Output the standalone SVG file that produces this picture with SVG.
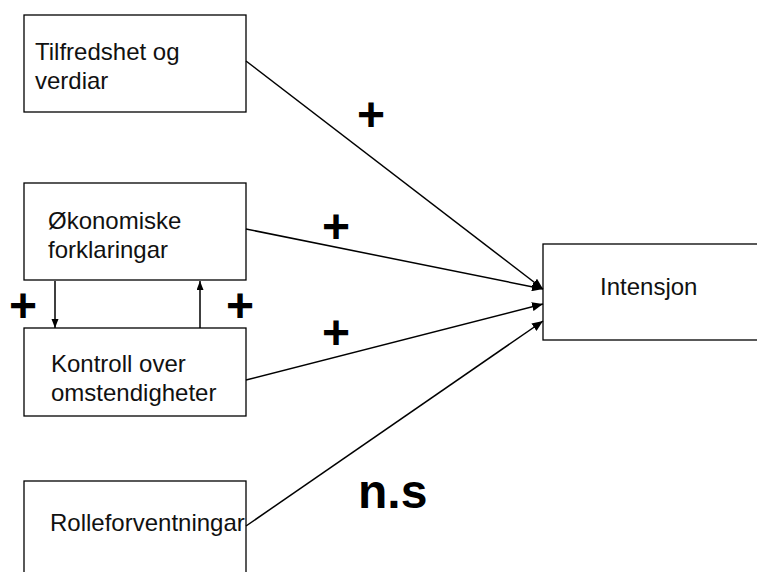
<svg xmlns="http://www.w3.org/2000/svg" width="757" height="572" viewBox="0 0 757 572">
<style>
.box{fill:#fff;stroke:#000;stroke-width:1.3}
.lbl{font-family:"Liberation Sans",Arial,sans-serif;font-size:24px;fill:#111}
.sgn{font-family:"Liberation Sans",Arial,sans-serif;font-size:48px;font-weight:bold;fill:#000}
.con{stroke:#000;stroke-width:1.5;fill:none}
</style>
<defs>
<marker id="ah" markerUnits="userSpaceOnUse" markerWidth="12" markerHeight="9" refX="11" refY="4.5" orient="auto">
<path d="M0,0 L11,4.5 L0,9 z" fill="#000"/>
</marker>
<marker id="as" markerUnits="userSpaceOnUse" markerWidth="9" markerHeight="8" refX="9" refY="3.5" orient="auto">
<path d="M0,0 L9,3.5 L0,7 z" fill="#000"/>
</marker>
</defs>
<rect width="757" height="572" fill="#fff"/>
<g id="n1">
<rect class="box" x="24" y="15" width="222" height="97"/>
<text class="lbl" x="35" y="60">Tilfredshet og</text>
<text class="lbl" x="35" y="89">verdiar</text>
</g>
<g id="n2">
<rect class="box" x="24" y="183" width="222" height="97"/>
<text class="lbl" x="48" y="229">Økonomiske</text>
<text class="lbl" x="48" y="258">forklaringar</text>
</g>
<g id="n3">
<rect class="box" x="24" y="328" width="222" height="88"/>
<text class="lbl" x="51" y="372">Kontroll over</text>
<text class="lbl" x="51" y="401">omstendigheter</text>
</g>
<g id="n4">
<rect class="box" x="24" y="481" width="222" height="100"/>
<text class="lbl" x="50" y="531">Rolleforventningar</text>
</g>
<g id="n5">
<rect class="box" x="543" y="244" width="225" height="96"/>
<text class="lbl" x="600" y="295">Intensjon</text>
</g>
<g id="connectors">
<line class="con" x1="246" y1="61" x2="543" y2="289" marker-end="url(#ah)"/>
<line class="con" x1="246" y1="229" x2="543" y2="289" marker-end="url(#ah)"/>
<line class="con" x1="246" y1="380" x2="543" y2="304" marker-end="url(#ah)"/>
<line class="con" x1="246" y1="526" x2="543" y2="321" marker-end="url(#ah)"/>
<line class="con" x1="55" y1="281" x2="55" y2="328" stroke-width="1.2" marker-end="url(#as)"/>
<line class="con" x1="200" y1="328" x2="200" y2="281" stroke-width="1.2" marker-end="url(#as)"/>
</g>
<g id="labels">
<text class="sgn" x="371" y="131" text-anchor="middle">+</text>
<text class="sgn" x="336" y="243" text-anchor="middle">+</text>
<text class="sgn" x="336" y="349" text-anchor="middle">+</text>
<text class="sgn" x="23" y="322" text-anchor="middle">+</text>
<text class="sgn" x="240" y="322" text-anchor="middle">+</text>
<text class="sgn" x="358" y="508">n.s</text>
</g>
</svg>
